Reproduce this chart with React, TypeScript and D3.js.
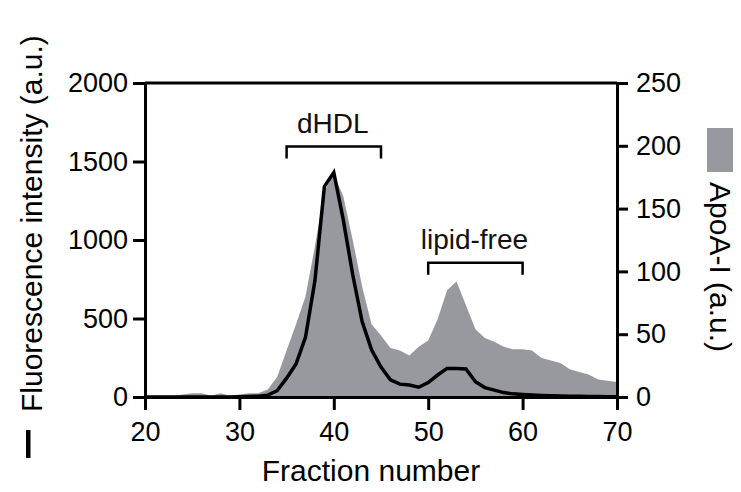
import { useEffect, useRef } from 'react'
import * as d3 from 'd3'

// fraction numbers on the x axis
const fractions = [
  20, 21, 22, 23, 24, 25, 26, 27, 28, 29, 30, 31, 32, 33, 34, 35, 36, 37, 38, 39, 40,
  41, 42, 43, 44, 45, 46, 47, 48, 49, 50, 51, 52, 53, 54, 55, 56, 57, 58, 59, 60,
  61, 62, 63, 64, 65, 66, 67, 68, 69, 70,
]

// ApoA-I (a.u.), right axis, grey area
const apoA = [
  0, 1, 1, 1, 2, 3, 3, 1, 3, 1, 2, 3, 3, 6, 16, 37, 58, 80, 120, 164, 177,
  160, 125, 88, 58, 49, 39, 37, 33, 40, 45, 62, 85, 92, 73, 54, 47, 44, 40, 38, 38,
  37, 31, 29, 27, 22, 20, 18, 14, 13, 12,
]

// Fluorescence intensity (a.u.), left axis, black line
const fluorescence = [
  0, 0, 0, 0, 0, 0, 0, 0, 0, 0, 2, 3, 5, 12, 40, 120, 210, 380, 740, 1340, 1430,
  1130, 780, 480, 300, 190, 110, 82, 76, 62, 92, 140, 182, 182, 178, 97, 60, 44, 28, 20, 16,
  13, 10, 8, 6, 5, 4, 3, 3, 2, 2,
]

const xTicks = [20, 30, 40, 50, 60, 70]
const leftTicks = [0, 500, 1000, 1500, 2000]
const rightTicks = [0, 50, 100, 150, 200, 250]

// bracket annotations: [from, to, label]
const brackets: [number, number, string][] = [
  [35, 45, 'dHDL'],
  [50, 60, 'lipid-free'],
]
const bracketLevels = [1595, 855] // left-axis units for the bracket tops

const FONT = '"Liberation Sans", Arial, Helvetica, sans-serif'
const GREY = '#97999f'

export default function App() {
  const svgRef = useRef<SVGSVGElement>(null)

  useEffect(() => {
    if (!svgRef.current) return
    const svg = d3.select(svgRef.current)
    svg.selectAll('*').remove()

    const x = d3.scaleLinear().domain([20, 70]).range([145, 617])
    const yL = d3.scaleLinear().domain([0, 2000]).range([397, 83])
    const yR = d3.scaleLinear().domain([0, 250]).range([397, 83])

    const rows = fractions.map((f, i) => ({ f, a: apoA[i], fl: fluorescence[i] }))

    // grey area (ApoA-I)
    const area = d3
      .area<{ f: number; a: number; fl: number }>()
      .x(d => x(d.f))
      .y0(yR(0))
      .y1(d => yR(d.a))
    svg.append('path').datum(rows).attr('d', area).attr('fill', GREY)

    // black line (fluorescence)
    const line = d3
      .line<{ f: number; a: number; fl: number }>()
      .x(d => x(d.f))
      .y(d => yL(d.fl))
    svg
      .append('path')
      .datum(rows)
      .attr('d', line)
      .attr('fill', 'none')
      .attr('stroke', '#000')
      .attr('stroke-width', 3.5)
      .attr('stroke-linejoin', 'miter')

    const styleAxis = (g: any, size: number) => {
      g.selectAll('.domain').attr('stroke', '#000').attr('stroke-width', 3)
      g.selectAll('.tick line').attr('stroke', '#000').attr('stroke-width', 3)
      g.selectAll('text')
        .attr('fill', '#000')
        .attr('font-family', FONT)
        .attr('font-size', size)
    }

    // top frame line
    svg
      .append('line')
      .attr('x1', x(20))
      .attr('x2', x(70))
      .attr('y1', yL(2000))
      .attr('y2', yL(2000))
      .attr('stroke', '#000')
      .attr('stroke-width', 3)

    const gx = svg
      .append('g')
      .attr('transform', `translate(0,${yL(0)})`)
      .call(d3.axisBottom(x).tickValues(xTicks).tickSize(13).tickSizeOuter(0).tickPadding(12))
    styleAxis(gx, 27)

    const gl = svg
      .append('g')
      .attr('transform', `translate(${x(20)},0)`)
      .call(d3.axisLeft(yL).tickValues(leftTicks).tickSize(12).tickSizeOuter(0).tickPadding(5).tickFormat(d3.format('d')))
    styleAxis(gl, 27)

    const gr = svg
      .append('g')
      .attr('transform', `translate(${x(70)},0)`)
      .call(d3.axisRight(yR).tickValues(rightTicks).tickSize(11).tickSizeOuter(0).tickPadding(8))
    styleAxis(gr, 27)

    // brackets with labels
    brackets.forEach(([a, b, label], i) => {
      const top = yL(bracketLevels[i])
      const x1 = x(a)
      const x2 = x(b)
      svg
        .append('path')
        .attr('d', `M${x1},${top + 12}V${top}H${x2}V${top + 12}`)
        .attr('fill', 'none')
        .attr('stroke', '#000')
        .attr('stroke-width', 2.5)
      svg
        .append('text')
        .attr('x', (x1 + x2) / 2 - 1)
        .attr('y', top - 14)
        .attr('text-anchor', 'middle')
        .attr('font-family', FONT)
        .attr('font-size', 28)
        .attr('fill', '#111')
        .text(label)
    })

    // x axis title
    svg
      .append('text')
      .attr('x', 371)
      .attr('y', 481)
      .attr('text-anchor', 'middle')
      .attr('font-family', FONT)
      .attr('font-size', 30)
      .attr('fill', '#000')
      .text('Fraction number')

    // left title + line legend
    svg
      .append('text')
      .attr('transform', 'translate(42,412) rotate(-90)')
      .attr('font-family', FONT)
      .attr('font-size', 30)
      .attr('fill', '#000')
      .text('Fluorescence intensity (a.u.)')
    svg.append('rect').attr('x', 26).attr('y', 430).attr('width', 4.5).attr('height', 28).attr('fill', '#000')

    // right title + grey legend swatch
    svg.append('rect').attr('x', 707).attr('y', 128).attr('width', 26).attr('height', 44).attr('fill', GREY)
    svg
      .append('text')
      .attr('transform', 'translate(710,182) rotate(90)')
      .attr('font-family', FONT)
      .attr('font-size', 30)
      .attr('fill', '#000')
      .text('ApoA-I (a.u.)')
  }, [])

  return (
    <svg
      ref={svgRef}
      width={741}
      height={492}
      style={{ position: 'absolute', left: 0, top: 0, background: '#fff', display: 'block' }}
    />
  )
}
